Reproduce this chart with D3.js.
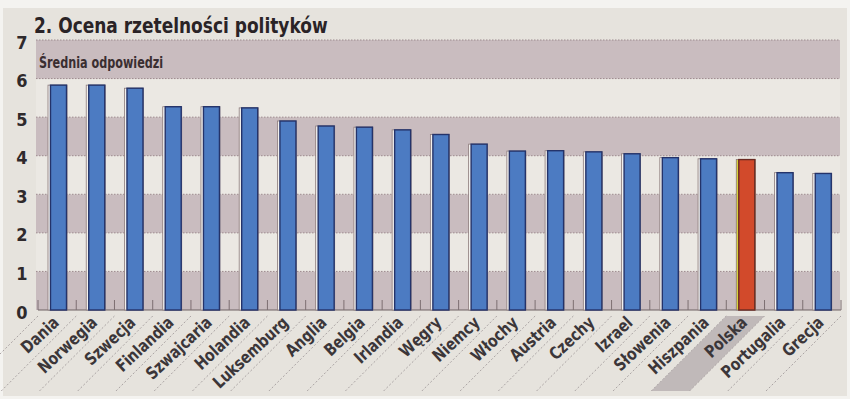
<!DOCTYPE html>
<html><head><meta charset="utf-8">
<script src="https://cdn.jsdelivr.net/npm/d3@7"></script>
<style>
body{margin:0;background:#f4f3f0;}
svg{display:block}
.cond{font-family:"Liberation Sans Narrow","DejaVu Sans Condensed","Roboto Condensed","Liberation Sans",sans-serif;font-stretch:condensed;font-weight:bold;}
</style></head><body>
<svg id="c" width="850" height="399"></svg>
<script>
const countries = ["Dania","Norwegia","Szwecja","Finlandia","Szwajcaria","Holandia","Luksemburg","Anglia","Belgia","Irlandia","Węgry","Niemcy","Włochy","Austria","Czechy","Izrael","Słowenia","Hiszpania","Polska","Portugalia","Grecja"];
const values = [5.83,5.83,5.75,5.27,5.27,5.24,4.9,4.77,4.74,4.67,4.55,4.3,4.12,4.13,4.1,4.05,3.95,3.92,3.9,3.56,3.54];
const yTicks = [0,1,2,3,4,5,6,7];
const highlight = "Polska";
const title = "2. Ocena rzetelności polityków";
const subtitle = "Średnia odpowiedzi";

const svg = d3.select("#c");
const x = d3.scaleBand().domain(countries).range([38, 841]).padding(0);
const y = d3.scaleLinear().domain([0, 7]).range([310, 40]);
const bw = x.bandwidth();

// paper
svg.append("rect").attr("x", 3).attr("y", 8).attr("width", 844).attr("height", 388).attr("fill", "#e6e3dd");

// bands
const bands = d3.range(7);
svg.append("g").selectAll("rect").data(bands).join("rect")
  .attr("x", 36).attr("width", 804)
  .attr("y", d => y(d + 1)).attr("height", d => y(d) - y(d + 1))
  .attr("fill", d => d % 2 === 0 ? "#c9bcbf" : "#ebe8e3");

// dotted grid
svg.append("g").selectAll("line").data(yTicks.filter(d => d > 0)).join("line")
  .attr("x1", 36).attr("x2", 840).attr("y1", d => y(d)).attr("y2", d => y(d))
  .attr("stroke", "#9d8a8e").attr("stroke-width", 1).attr("stroke-dasharray", "1.5,1.5");

// y axis labels
const yAxis = svg.append("g").attr("transform", "translate(28,0)")
  .call(d3.axisLeft(y).tickValues(yTicks).tickSize(0).tickPadding(0).tickFormat(d3.format("d")));
yAxis.select(".domain").remove();
yAxis.selectAll("text").attr("class", "cond").attr("font-size", 18).attr("fill", "#2f2a2c")
  .attr("text-anchor", "middle").attr("x", -6).attr("dy", "0.45em");

// title & subtitle
svg.append("text").attr("class", "cond").attr("font-size", 21)
  .attr("transform", "translate(34,33) scale(0.9,1)")
  .attr("fill", "#2a2326").text(title);
svg.append("text").attr("class", "cond").attr("font-size", 16)
  .attr("transform", "translate(39,68) scale(0.78,1)")
  .attr("fill", "#3a2e31").text(subtitle);

// label area: highlight parallelogram and separators
const bounds = countries.map(c => x(c)).concat([x.range()[1]]);
const hx = x(highlight);
svg.append("path")
  .attr("d", `M${hx},316 L${hx + bw},316 L${hx + bw - 75},391 L${hx - 75},391 Z`)
  .attr("fill", "#c0b9b9");
svg.append("g").selectAll("line").data(bounds).join("line")
  .attr("x1", d => d).attr("y1", 316).attr("x2", d => d - 75).attr("y2", 391)
  .attr("stroke", "#aaa3a3").attr("stroke-width", 1).attr("stroke-dasharray", "2,2");

// x axis line and ticks
svg.append("line").attr("x1", x.range()[0]).attr("x2", x.range()[1])
  .attr("y1", y(0)).attr("y2", y(0)).attr("stroke", "#6f6265").attr("stroke-width", 1.2);
svg.append("g").selectAll("line").data(bounds).join("line")
  .attr("x1", d => d).attr("x2", d => d).attr("y1", y(0)).attr("y2", y(0) - 10)
  .attr("stroke", "#7d6f72").attr("stroke-width", 1);

// bars
const g = svg.append("g").selectAll("g").data(countries).join("g");
g.append("rect")
  .attr("x", d => x(d) + 10).attr("width", 19)
  .attr("y", (d, i) => y(values[i])).attr("height", (d, i) => y(0) - y(values[i]))
  .attr("fill", d => d === highlight ? "#d8d23c" : "#f3f1ee")
  .attr("stroke", "#8c7b7b").attr("stroke-width", 0.8);
g.append("rect")
  .attr("x", d => x(d) + 12.5).attr("width", 16)
  .attr("y", (d, i) => y(values[i])).attr("height", (d, i) => y(0) - y(values[i]))
  .attr("fill", d => d === highlight ? "#d24a2b" : "#4c7bc2")
  .attr("stroke", d => d === highlight ? "#6a2a22" : "#24336a").attr("stroke-width", 1.4);

// category labels
svg.append("g").selectAll("text").data(countries).join("text")
  .attr("class", "cond").attr("font-size", 17).attr("fill", "#3b3639")
  .attr("text-anchor", "end")
  .attr("transform", d => `translate(${x(d) + bw / 2 + 3},324) rotate(-43) scale(0.9,1)`)
  .text(d => d);
</script>
</body></html>
